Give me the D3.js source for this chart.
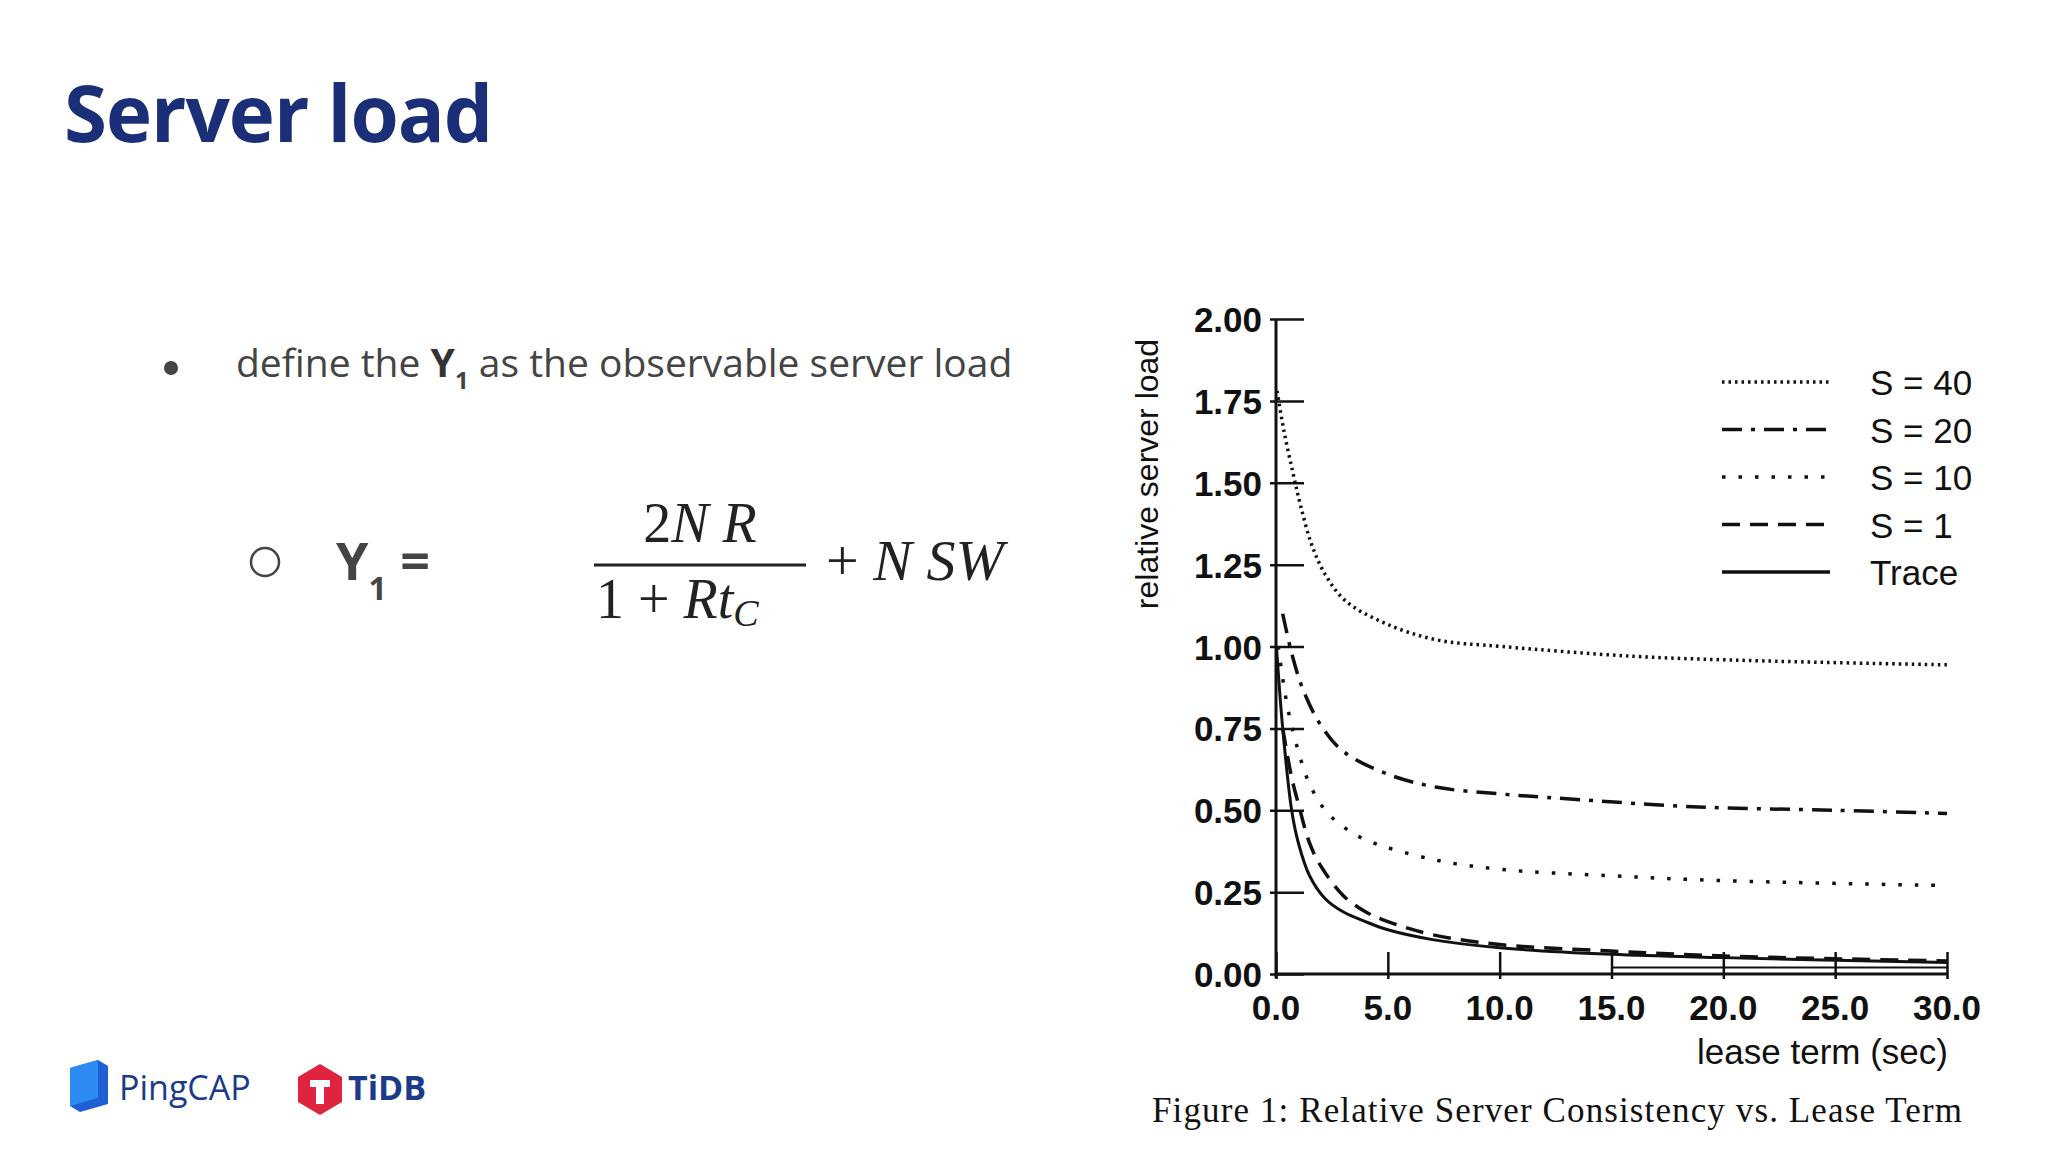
<!DOCTYPE html>
<html>
<head>
<meta charset="utf-8">
<script src="https://cdn.jsdelivr.net/npm/d3@7"></script>
<style>
  body { margin: 0; background: #fff; }
</style>
</head>
<body>
<svg id="slide" width="2048" height="1152"></svg>
<script>
// Series (lease term in sec, relative server load)
const leaseS40 = [[0.05, 1.78], [0.35, 1.66], [0.76, 1.53], [1.1, 1.43], [1.6, 1.31], [2.2, 1.22], [3.1, 1.14], [4.9, 1.07], [7.2, 1.02], [10.1, 1.0], [16, 0.97], [21.8, 0.956], [30, 0.944]];
const leaseS20 = [[0.3, 1.1], [0.7, 0.98], [1.2, 0.87], [2, 0.76], [3, 0.68], [5, 0.61], [7.2, 0.57], [10, 0.55], [13, 0.535], [18.9, 0.51], [25, 0.5], [30, 0.49]];
const leaseS10 = [[0.1, 1.0], [0.5, 0.82], [1, 0.68], [1.5, 0.58], [2.2, 0.5], [3, 0.45], [4, 0.41], [7, 0.35], [10, 0.32], [15, 0.3], [20, 0.285], [30, 0.27]];
const leaseS1 = [[0.3, 0.75], [0.7, 0.6], [1, 0.52], [1.5, 0.4], [2, 0.33], [3, 0.24], [4, 0.19], [5, 0.16], [7, 0.12], [10, 0.09], [15, 0.07], [20, 0.055], [30, 0.04]];
const leaseTrace = [[0.02, 1.0], [0.3, 0.75], [0.7, 0.5], [1, 0.4], [1.5, 0.3], [2.2, 0.23], [3, 0.19], [4, 0.16], [5, 0.135], [7, 0.105], [10, 0.08], [15, 0.06], [20, 0.05], [30, 0.035]];
const baseLine = [[15, 0.02], [30, 0.02]];

const seriesNames = ["S = 40", "S = 20", "S = 10", "S = 1", "Trace"];
const seriesData = [leaseS40, leaseS20, leaseS10, leaseS1, leaseTrace];
const dashes = ["2.5,4", "20,9,4,9", "3.5,13", "18,10", null];

const xTicks = [0, 5, 10, 15, 20, 25, 30];
const yTicks = [0, 0.25, 0.5, 0.75, 1, 1.25, 1.5, 1.75, 2];

const svg = d3.select("#slide");

// Title and bullets
svg.append("text").attr("x", 64).attr("y", 142)
  .attr("font-family", "Open Sans").attr("font-weight", 700).attr("font-size", 78)
  .attr("fill", "#1b2f78").attr("letter-spacing", -1).text("Server load");

svg.append("circle").attr("cx", 171).attr("cy", 368).attr("r", 7).attr("fill", "#444");
const line1 = svg.append("text").attr("x", 236).attr("y", 377)
  .attr("font-family", "Open Sans").attr("font-size", 39).attr("fill", "#444");
line1.append("tspan").text("define the ");
line1.append("tspan").attr("font-weight", 700).attr("fill", "#333").text("Y");
line1.append("tspan").attr("font-size", 24).attr("font-weight", 700).attr("dy", 12).text("1");
line1.append("tspan").attr("dy", -12).text(" as the observable server load");

svg.append("circle").attr("cx", 265).attr("cy", 562).attr("r", 14)
  .attr("fill", "none").attr("stroke", "#444").attr("stroke-width", 2.5);
const y1 = svg.append("text").attr("x", 336).attr("y", 580)
  .attr("font-family", "Open Sans").attr("font-weight", 700).attr("font-size", 52).attr("fill", "#444");
y1.append("tspan").text("Y");
y1.append("tspan").attr("font-size", 32).attr("dy", 20).text("1");
y1.append("tspan").attr("dy", -20).text(" =");

// Formula
const serif = "Liberation Serif";
svg.append("line").attr("x1", 594).attr("x2", 806).attr("y1", 565).attr("y2", 565)
  .attr("stroke", "#222").attr("stroke-width", 3);
const num = svg.append("text").attr("x", 700).attr("y", 542).attr("text-anchor", "middle")
  .attr("font-family", serif).attr("font-size", 56).attr("fill", "#222");
num.append("tspan").text("2");
num.append("tspan").attr("font-style", "italic").text("N R");
const den = svg.append("text").attr("x", 596).attr("y", 618)
  .attr("font-family", serif).attr("font-size", 56).attr("fill", "#222");
den.append("tspan").text("1 + ");
den.append("tspan").attr("font-style", "italic").text("Rt");
den.append("tspan").attr("font-style", "italic").attr("font-size", 38).attr("dy", 8).text("C");
const rest = svg.append("text").attr("x", 826).attr("y", 580)
  .attr("font-family", serif).attr("font-size", 58).attr("fill", "#222");
rest.append("tspan").text("+ ");
rest.append("tspan").attr("font-style", "italic").text("N SW");

// Chart
const x = d3.scaleLinear().domain([0, 30]).range([1276, 1947]);
const y = d3.scaleLinear().domain([0, 2]).range([974, 319]);
const sans = "Liberation Sans";

const yAxis = svg.append("g").attr("transform", `translate(${x(0)},0)`)
  .call(d3.axisRight(y).tickValues(yTicks).tickSize(28).tickFormat(""));
yAxis.selectAll(".tick line").attr("x1", -6);
yAxis.select(".domain").remove();
yAxis.selectAll("line").attr("stroke", "#111").attr("stroke-width", 2.5);
svg.append("line").attr("x1", x(0)).attr("x2", x(0)).attr("y1", y(2)).attr("y2", y(0) + 4)
  .attr("stroke", "#111").attr("stroke-width", 3);
svg.selectAll(".ylab").data(yTicks).join("text")
  .attr("x", x(0) - 14).attr("y", d => y(d) + 13).attr("text-anchor", "end")
  .attr("font-family", sans).attr("font-weight", 700).attr("font-size", 35).attr("fill", "#111")
  .text(d => d.toFixed(2));

const xAxis = svg.append("g").attr("transform", `translate(0,${y(0)})`)
  .call(d3.axisTop(x).tickValues(xTicks).tickSize(22).tickFormat(""));
xAxis.select(".domain").remove();
xAxis.selectAll(".tick line").attr("y1", 5);
xAxis.selectAll("line").attr("stroke", "#111").attr("stroke-width", 2.5);
svg.append("line").attr("x1", x(0)).attr("x2", x(30)).attr("y1", y(0)).attr("y2", y(0))
  .attr("stroke", "#111").attr("stroke-width", 3);
svg.selectAll(".xlab").data(xTicks).join("text")
  .attr("x", d => x(d)).attr("y", y(0) + 46).attr("text-anchor", "middle")
  .attr("font-family", sans).attr("font-weight", 700).attr("font-size", 35).attr("fill", "#111")
  .text(d => d.toFixed(1));

svg.append("text").attr("transform", `translate(1158,474) rotate(-90)`).attr("text-anchor", "middle")
  .attr("font-family", sans).attr("font-size", 32).attr("fill", "#111").text("relative server load");
svg.append("text").attr("x", 1948).attr("y", 1064).attr("text-anchor", "end")
  .attr("font-family", sans).attr("font-size", 35).attr("fill", "#111").text("lease term (sec)");
svg.append("text").attr("x", 1152).attr("y", 1122)
  .attr("font-family", serif).attr("font-size", 35).attr("fill", "#111")
  .attr("textLength", 810).text("Figure 1: Relative Server Consistency vs. Lease Term");

const line = d3.line().x(d => x(d[0])).y(d => y(d[1])).curve(d3.curveCatmullRom);
seriesData.forEach((s, i) => {
  svg.append("path").attr("d", line(s)).attr("fill", "none").attr("stroke", "#111")
    .attr("stroke-width", i === 4 ? 3 : 3.5).attr("stroke-dasharray", dashes[i]);
});
svg.append("path").attr("d", line(baseLine)).attr("fill", "none")
  .attr("stroke", "#111").attr("stroke-width", 2);

// Legend
const legendY = d3.scalePoint().domain(seriesNames).range([382, 572]);
seriesNames.forEach((n, i) => {
  svg.append("line").attr("x1", 1722).attr("x2", 1830).attr("y1", legendY(n)).attr("y2", legendY(n))
    .attr("stroke", "#111").attr("stroke-width", 3.5).attr("stroke-dasharray", dashes[i]);
  svg.append("text").attr("x", 1870).attr("y", legendY(n) + 13)
    .attr("font-family", sans).attr("font-size", 35).attr("fill", "#111").text(n);
});

// Logos
svg.append("path").attr("d", "M70,1068 L98,1060 L108,1066 L108,1104 L80,1112 L70,1106 Z").attr("fill", "#1f5fd6");
svg.append("path").attr("d", "M70,1068 L98,1060 L98,1098 L70,1106 Z").attr("fill", "#2c8cf2");
svg.append("text").attr("x", 119).attr("y", 1100).attr("font-family", "Open Sans")
  .attr("font-size", 34).attr("fill", "#1b3a8a").text("PingCAP");
svg.append("path").attr("d", "M320,1064 L342,1077 L342,1102 L320,1115 L298,1102 L298,1077 Z").attr("fill", "#e02440");
svg.append("path").attr("d", "M310,1080 L330,1080 L330,1087 L324,1087 L324,1104 L316,1104 L316,1087 L310,1087 Z").attr("fill", "#fff");
svg.append("text").attr("x", 348).attr("y", 1100).attr("font-family", "Open Sans").attr("font-weight", 700)
  .attr("font-size", 34).attr("fill", "#1b3a8a").text("TiDB");
</script>
</body>
</html>
